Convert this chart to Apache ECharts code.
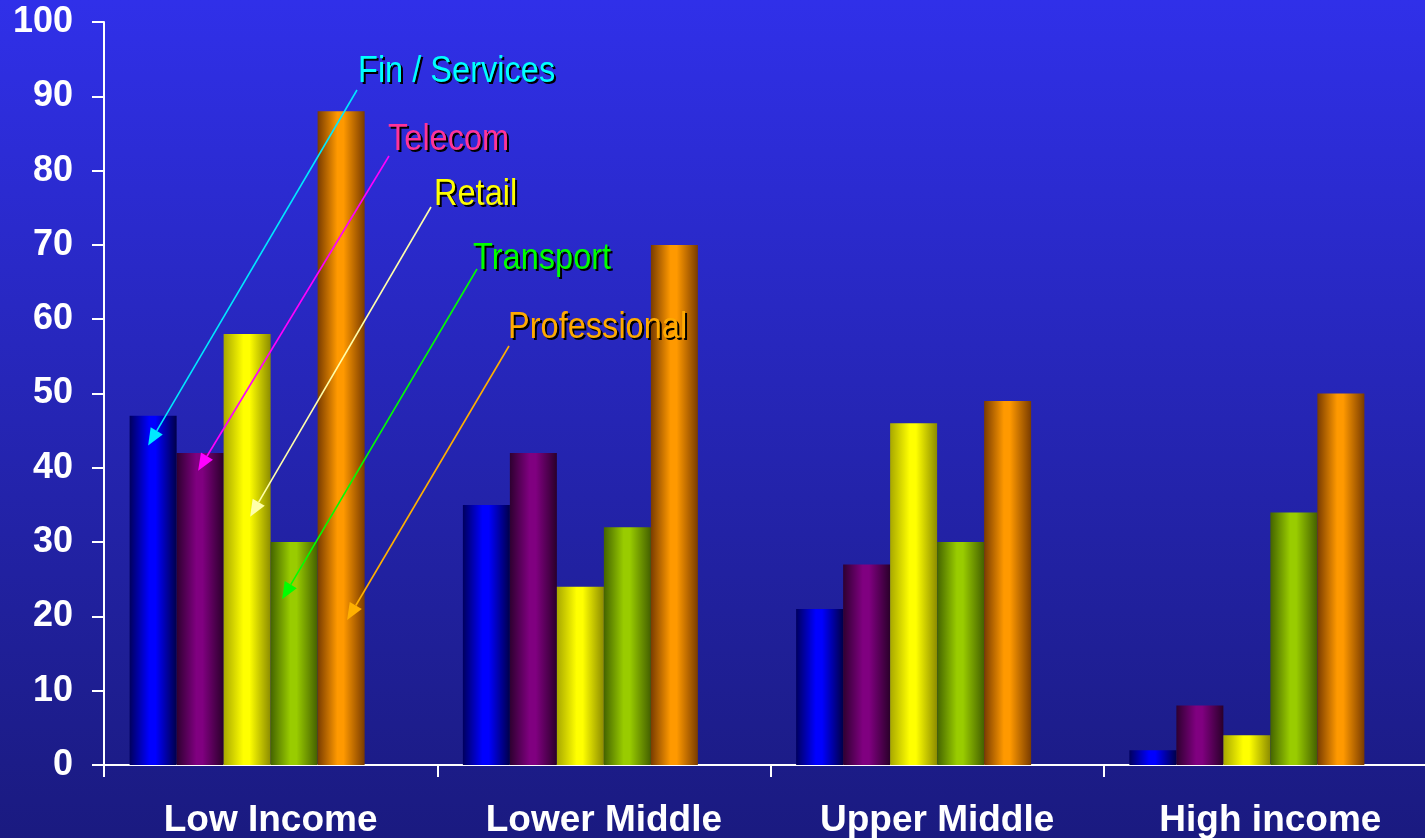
<!DOCTYPE html>
<html>
<head>
<meta charset="utf-8">
<style>
  html, body { margin: 0; padding: 0; background: #1a1a80; }
  #chart { width: 1425px; height: 838px; }
</style>
<script src="https://cdn.jsdelivr.net/npm/echarts@6/dist/echarts.min.js"></script>
</head>
<body>
<div id="chart"></div>
<script>
// Income groups along the x axis
const categories = ['Low Income', 'Lower Middle', 'Upper Middle', 'High income'];

// Sector values per income group
const finServices  = [47, 35, 21, 2];
const telecom      = [42, 42, 27, 8];
const retail       = [58, 24, 46, 4];
const transport    = [30, 32, 30, 34];
const professional = [88, 70, 49, 50];

const yTicks = { min: 0, max: 100, interval: 10 };

// Sector names, colours of the cylinder shading and the arrow pointing into the first group
const sectors = [
  { name: 'Fin / Services', data: finServices,  edgeL: '#00005e', mid: '#0000ff', edgeR: '#00004a', text: '#00ffff', arrow: '#00e8ff', tipValue: 43,   tipDx: -5 },
  { name: 'Telecom',        data: telecom,      edgeL: '#2e0030', mid: '#800080', edgeR: '#2a002a', text: '#ff3399', arrow: '#ff00ff', tipValue: 39.6, tipDx: -2 },
  { name: 'Retail',         data: retail,       edgeL: '#a8a800', mid: '#ffff00', edgeR: '#8c8c00', text: '#ffff00', arrow: '#ffffaa', tipValue: 33.4, tipDx: 3 },
  { name: 'Transport',      data: transport,    edgeL: '#446400', mid: '#99cc00', edgeR: '#446000', text: '#00ff00', arrow: '#00ff00', tipValue: 22.3, tipDx: -12 },
  { name: 'Professional',   data: professional, edgeL: '#7a3c00', mid: '#ff9900', edgeR: '#7a3c00', text: '#ffaa00', arrow: '#ffb000', tipValue: 19.5, tipDx: 6 }
];

// Where each callout label sits (left edge, top of text) and where its arrow starts
const callouts = [
  { x: 358, y: 53,  tail: [357, 90] },
  { x: 388, y: 121, tail: [389, 156] },
  { x: 434, y: 176, tail: [431, 207] },
  { x: 473, y: 240, tail: [477, 269] },
  { x: 508, y: 309, tail: [509, 346] }
];

const FONT = "'Liberation Sans', Arial, Helvetica, sans-serif";
const BAR_W = 47;

function cylinder(s) {
  return {
    type: 'linear', x: 0, y: 0, x2: 1, y2: 0,
    colorStops: [
      { offset: 0, color: s.edgeL },
      { offset: 0.42, color: s.mid },
      { offset: 0.55, color: s.mid },
      { offset: 1, color: s.edgeR }
    ]
  };
}

const series = sectors.map(s => ({
  name: s.name,
  type: 'bar',
  data: s.data,
  barWidth: BAR_W,
  barGap: '0%',
  itemStyle: { color: cylinder(s) },
  silent: true,
  animation: false
}));
// empty slot after the five sectors keeps each group left of its category centre
series.push({ name: '', type: 'bar', data: categories.map(() => null), barWidth: BAR_W, barGap: '0%', silent: true, animation: false });

const chart = echarts.init(document.getElementById('chart'), null, { renderer: 'canvas' });

chart.setOption({
  animation: false,
  backgroundColor: {
    type: 'linear', x: 0, y: 0, x2: 0, y2: 1,
    colorStops: [
      { offset: 0, color: '#3030e9' },
      { offset: 0.91, color: '#1c1c88' },
      { offset: 1, color: '#1a1a80' }
    ]
  },
  // the plot runs a little past the right edge of the page
  grid: { left: 104, width: 1333, top: 22, height: 743, containLabel: false, outerBoundsMode: 'none' },
  xAxis: {
    type: 'category',
    data: categories,
    boundaryGap: true,
    axisLine: { lineStyle: { color: '#ffffff', width: 2 } },
    axisTick: { show: true, length: 12, lineStyle: { color: '#ffffff', width: 2 }, alignWithLabel: false },
    axisLabel: { color: '#ffffff', fontFamily: FONT, fontWeight: 'bold', fontSize: 37, margin: 37 },
    splitLine: { show: false }
  },
  yAxis: {
    type: 'value',
    min: yTicks.min, max: yTicks.max, interval: yTicks.interval,
    axisLine: { show: true, lineStyle: { color: '#ffffff', width: 2 } },
    axisTick: { show: true, length: 12, lineStyle: { color: '#ffffff', width: 2 } },
    axisLabel: { color: '#ffffff', fontFamily: FONT, fontWeight: 'bold', fontSize: 36, margin: 31 },
    splitLine: { show: false }
  },
  series: series
});

// Callout labels with arrows into the Low Income bars
function barCentre(seriesIndex, dataIndex) {
  const model = chart.getModel().getSeriesByIndex(seriesIndex);
  const layout = model && model.getData().getItemLayout(dataIndex);
  if (layout) return layout.x + layout.width / 2;
  const c = chart.convertToPixel({ gridIndex: 0 }, [dataIndex, 0])[0];
  return c + (seriesIndex - 2.5) * BAR_W;
}

const graphics = [];
sectors.forEach((s, i) => {
  const c = callouts[i];
  const tipX = barCentre(i, 0) + s.tipDx;
  const tipY = chart.convertToPixel({ yAxisIndex: 0 }, s.tipValue);
  const tx = c.tail[0], ty = c.tail[1];
  const dx = tipX - tx, dy = tipY - ty;
  const len = Math.sqrt(dx * dx + dy * dy);
  const ux = dx / len, uy = dy / len;
  const headLen = 17, headHalf = 7;
  const bx = tipX - ux * headLen, by = tipY - uy * headLen;
  graphics.push({
    type: 'line', silent: true, z: 10,
    shape: { x1: tx, y1: ty, x2: bx, y2: by },
    style: { stroke: s.arrow, lineWidth: 1.6 }
  });
  graphics.push({
    type: 'polygon', silent: true, z: 10,
    shape: { points: [[tipX, tipY], [bx - uy * headHalf, by + ux * headHalf], [bx + uy * headHalf, by - ux * headHalf]] },
    style: { fill: s.arrow }
  });
  // drop shadow then the coloured label
  graphics.push({
    type: 'text', silent: true, z: 11,
    x: c.x + 2, y: c.y + 2, scaleX: 0.88,
    style: { text: s.name, fill: '#000000', font: '37px ' + FONT, textAlign: 'left', textVerticalAlign: 'top' }
  });
  graphics.push({
    type: 'text', silent: true, z: 12,
    x: c.x, y: c.y, scaleX: 0.88,
    style: { text: s.name, fill: s.text, font: '37px ' + FONT, textAlign: 'left', textVerticalAlign: 'top' }
  });
});

chart.setOption({ graphic: graphics });
</script>
</body>
</html>
